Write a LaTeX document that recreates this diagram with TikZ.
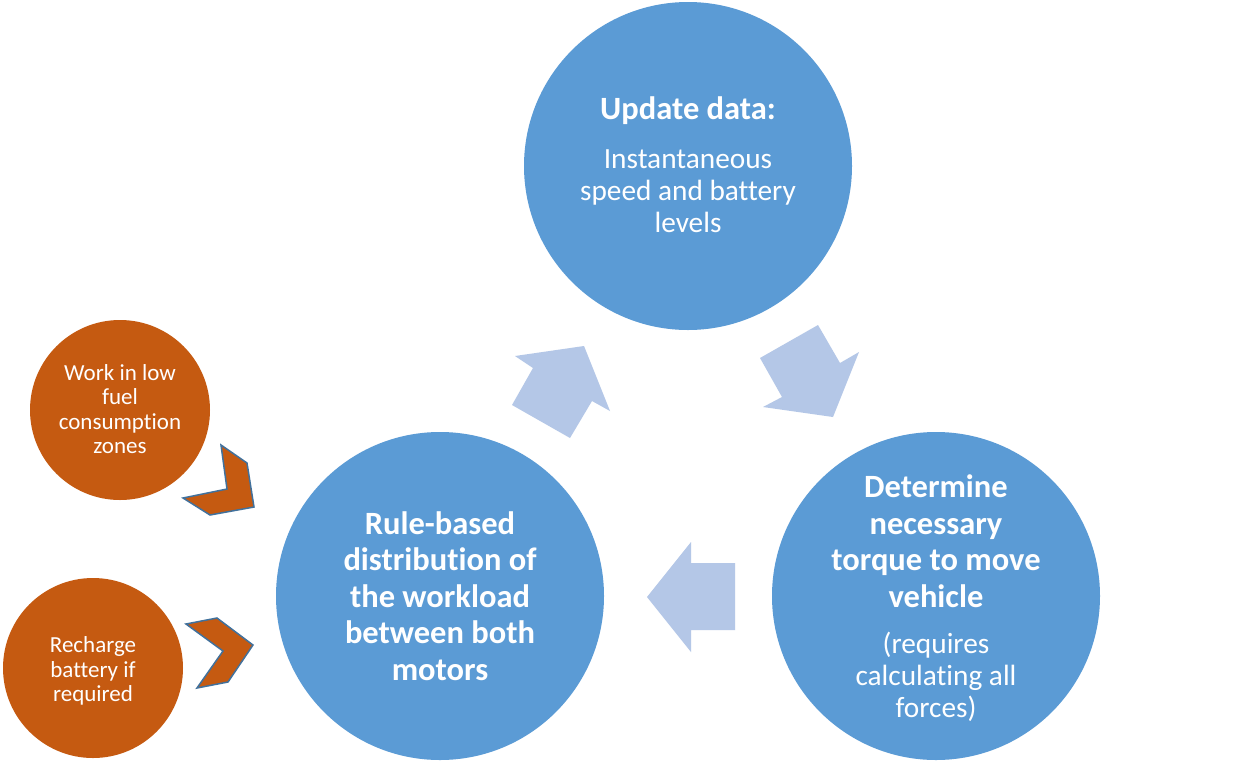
\documentclass[tikz,border=0pt]{standalone}
\usepackage{fontspec}
\setmainfont[Ligatures=NoCommon]{Carlito}
\definecolor{cblue}{HTML}{5B9BD5}
\definecolor{lblue}{HTML}{B4C7E7}
\definecolor{corange}{HTML}{C55A11}
\definecolor{cedge}{HTML}{41719C}
\begin{document}
\begin{tikzpicture}[x=1pt,y=-1pt,
  bigc/.style={circle,fill=cblue,minimum size=328pt,inner sep=0pt},
  smallc/.style={circle,fill=corange,minimum size=180pt,inner sep=0pt},
  blockarrow/.style={fill=lblue},
  chev/.style={fill=corange,draw=cedge,line width=1.5pt,line join=miter},
  bigtxt/.style={text=white,font=\fontsize{32.5}{36.5}\selectfont\bfseries,align=center,inner sep=0pt},
  bodytxt/.style={text=white,font=\fontsize{29.3}{32}\selectfont,align=center,inner sep=0pt},
  smalltxt/.style={text=white,font=\fontsize{23}{24.5}\selectfont,align=center,inner sep=0pt}]
\useasboundingbox (0,0) rectangle (1253,764);
\fill[white] (0,0) rectangle (1253,764);
% circles
\node[bigc] (top) at (688,166) {};
\node[bigc] (right) at (936,596) {};
\node[bigc] (left) at (440,596) {};
\node[smallc] (s1) at (120,410) {};
\node[smallc] (s2) at (93,668) {};
% texts
\node[bigtxt] (toptitle) at (688,111) {Update data:};
\node[bodytxt] (topbody) at (688,191) {Instantaneous\\speed and battery\\levels};
\node[bigtxt] (lefttxt) at (440,596) {Rule-based\\distribution of\\the workload\\between both\\motors};
\node[bigtxt] (righttitle) at (936,541) {Determine\\necessary\\torque to move\\vehicle};
\node[bodytxt] (rightbody) at (936,677) {(requires\\calculating all\\forces)};
\node[smalltxt] (s1txt) at (120,409) {Work in low\\fuel\\consumption\\zones};
\node[smalltxt] (s2txt) at (93,671) {Recharge\\battery if\\required};
% block arrows
\fill[blockarrow] (512,405) -- (570,438) -- (592,401) -- (610,411) -- (584,346) -- (515,356) -- (533,368) -- cycle;
\fill[blockarrow] (760,358) -- (818,325) -- (840,363) -- (859,352) -- (833,417) -- (763,407) -- (782,397) -- cycle;
\fill[blockarrow] (735,563) -- (735,630) -- (691,630) -- (691,652) -- (647,597) -- (691,542) -- (691,563) -- cycle;
% chevrons
\filldraw[chev] (221,445) -- (247,463) -- (254,507) -- (210,515) -- (183,498) -- (227,489) -- cycle;
\filldraw[chev] (186,624) -- (217,618) -- (253,645) -- (228,682) -- (197,688) -- (223,651) -- cycle;
\end{tikzpicture}
\end{document}
